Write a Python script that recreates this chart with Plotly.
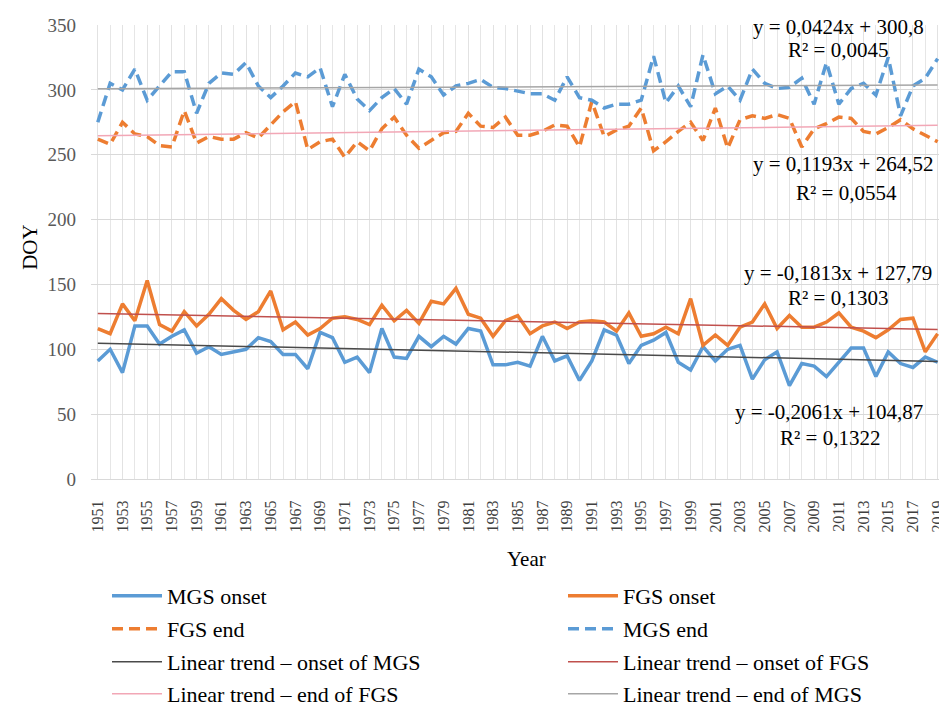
import plotly.graph_objects as go

years = list(range(1951, 2020))

mgs_onset = [91, 100, 82, 118, 118, 104, 110, 115, 97, 102,
             96, 98, 100, 109, 106, 96, 96, 85, 113, 109,
             90, 94, 82, 116, 94, 93, 110, 102, 110, 104,
             116, 114, 88, 88, 90, 87, 110, 91, 95, 76,
             91, 115, 111, 89, 103, 107, 113, 90, 84, 102,
             91, 100, 103, 77, 92, 98, 72, 89, 87, 79,
             90, 101, 101, 79, 98, 89, 86, 94, 90]

fgs_onset = [116, 112, 135, 122, 153, 119, 114, 129, 118, 127,
             139, 130, 123, 129, 145, 115, 121, 111, 116, 124,
             125, 123, 119, 134, 122, 130, 120, 137, 135, 147,
             127, 124, 110, 122, 126, 112, 118, 121, 116, 121,
             122, 121, 114, 128, 110, 112, 117, 112, 139, 103,
             111, 103, 117, 121, 135, 116, 126, 117, 117, 121,
             128, 117, 114, 109, 115, 123, 124, 98, 112]

fgs_end = [262, 258, 275, 266, 264, 257, 256, 284, 259, 264,
           262, 262, 267, 263, 273, 283, 291, 254, 260, 262,
           248, 260, 253, 270, 279, 265, 255, 261, 267, 268,
           282, 272, 271, 279, 265, 265, 268, 273, 272, 256,
           291, 264, 269, 272, 286, 253, 260, 268, 275, 261,
           286, 255, 277, 280, 278, 281, 278, 256, 270, 274,
           279, 278, 268, 266, 271, 277, 270, 265, 260]

mgs_end = [275, 305, 300, 316, 292, 303, 314, 314, 282, 305,
           313, 312, 321, 303, 294, 303, 313, 310, 317, 287,
           312, 293, 284, 294, 301, 289, 316, 310, 296, 303,
           305, 308, 302, 301, 299, 297, 297, 292, 310, 294,
           292, 286, 289, 289, 292, 326, 290, 303, 287, 327,
           297, 303, 292, 316, 305, 301, 302, 309, 289, 321,
           289, 301, 305, 296, 325, 280, 303, 309, 324]

# trend equations as printed on the chart (x = 1 .. 69)
trend_names = ["Linear trend – onset of MGS", "Linear trend – onset of FGS",
               "Linear trend – end of FGS", "Linear trend – end of MGS"]
trend_slopes = [-0.2061, -0.1813, 0.1193, 0.0424]
trend_intercepts = [104.87, 127.79, 264.52, 300.8]
trend_eq_text = ["y = -0,2061x + 104,87", "y = -0,1813x + 127,79",
                 "y = 0,1193x + 264,52", "y = 0,0424x + 300,8"]
trend_r2_text = ["R² = 0,1322", "R² = 0,1303", "R² = 0,0554", "R² = 0,0045"]

tick_years = list(range(1951, 2020, 2))
y_ticks = [0, 50, 100, 150, 200, 250, 300, 350]

BLUE = "#5B9BD5"
ORANGE = "#ED7D31"
trend_colors = ["#4A4A4A", "#C0504D", "#F2A7B6", "#A6A6A6"]
FONT = "Liberation Serif"

W, H = 939, 707
PL, PR, PT, PB = 91, 939, 25, 479.3


def pxx(px):
    return (px - PL) / (PR - PL)


def pxy(py):
    return (PB - py) / (PB - PT)


fig = go.Figure()

series = [
    ("MGS onset", mgs_onset, BLUE, None),
    ("FGS onset", fgs_onset, ORANGE, None),
    ("FGS end", fgs_end, ORANGE, "11px,6px"),
    ("MGS end", mgs_end, BLUE, "11px,6px"),
]
legend_ids = ["legend", "legend2", "legend3", "legend4",
              "legend5", "legend6", "legend7", "legend8"]

for k, (name, vals, col, dash) in enumerate(series):
    line = dict(color=col, width=3.5)
    if dash:
        line["dash"] = dash
    fig.add_trace(go.Scatter(x=years, y=vals, mode="lines", name=name,
                             line=line, legend=legend_ids[k]))

xs = list(range(1, len(years) + 1))
for k in range(4):
    tv = [trend_slopes[k] * x + trend_intercepts[k] for x in xs]
    fig.add_trace(go.Scatter(x=years, y=tv, mode="lines", name=trend_names[k],
                             line=dict(color=trend_colors[k], width=1.5),
                             legend=legend_ids[4 + k]))

# legend placement (rows / columns), in container coordinates
rows_y = [596, 629, 662, 694]
col_x = [107, 563]
layout_legends = {}
for k in range(8):
    r, c = k // 2, k % 2
    layout_legends[legend_ids[k]] = dict(
        x=col_x[c] / W, y=1 - rows_y[r] / H, xanchor="left", yanchor="middle",
        xref="container", yref="container", orientation="v", itemwidth=50,
        bgcolor="rgba(0,0,0,0)", borderwidth=0,
        font=dict(family=FONT, size=22, color="#000000"))

annotations = []
eq_pos = [(829, 412, 830, 438), (838, 273, 838, 298),
          (843, 164, 846, 193), (838, 27, 838, 50)]
for k in range(4):
    ex, ey, rx, ry = eq_pos[k]
    annotations.append(dict(x=pxx(ex), y=pxy(ey), xref="paper", yref="paper",
                            text=trend_eq_text[k], showarrow=False,
                            xanchor="center", yanchor="middle",
                            font=dict(family=FONT, size=21, color="#000000")))
    annotations.append(dict(x=pxx(rx), y=pxy(ry), xref="paper", yref="paper",
                            text=trend_r2_text[k], showarrow=False,
                            xanchor="center", yanchor="middle",
                            font=dict(family=FONT, size=21, color="#000000")))
annotations.append(dict(x=pxx(526), y=pxy(559), xref="paper", yref="paper",
                        text="Year", showarrow=False, xanchor="center", yanchor="middle",
                        font=dict(family=FONT, size=21, color="#000000")))
annotations.append(dict(x=pxx(30), y=pxy(247), xref="paper", yref="paper",
                        text="DOY", showarrow=False, xanchor="center", yanchor="middle",
                        textangle=-90,
                        font=dict(family=FONT, size=21, color="#000000")))

fig.update_layout(
    width=W, height=H,
    margin=dict(l=PL, r=W - PR, t=PT, b=H - PB, pad=0, autoexpand=False),
    paper_bgcolor="white", plot_bgcolor="white",
    showlegend=True,
    annotations=annotations,
    **layout_legends,
)

fig.update_xaxes(
    range=[1950.45, 2019.11],
    tickmode="array", tickvals=tick_years, ticktext=[str(y) for y in tick_years],
    tickangle=-90, ticks="", ticklabelstandoff=14, ticklabeloverflow="allow",
    tickfont=dict(family=FONT, size=16, color="#404040"),
    showgrid=True, gridcolor="#E2E2E2", gridwidth=1,
    minor=dict(tickmode="linear", tick0=1951, dtick=1, showgrid=True,
               gridcolor="#E6E6E6", gridwidth=1),
    showline=True, linecolor="#D9D9D9", linewidth=1,
    zeroline=False,
)
fig.update_yaxes(
    range=[0, 350], tickmode="array", tickvals=y_ticks,
    ticks="", ticklabelstandoff=14,
    tickfont=dict(family=FONT, size=19, color="#595959"),
    showgrid=True, gridcolor="#D9D9D9", gridwidth=1,
    zeroline=False, showline=False,
)

fig.write_html("out.html", config={"displayModeBar": False},
               post_script="document.body.style.margin='0px';document.body.style.overflow='hidden';")
